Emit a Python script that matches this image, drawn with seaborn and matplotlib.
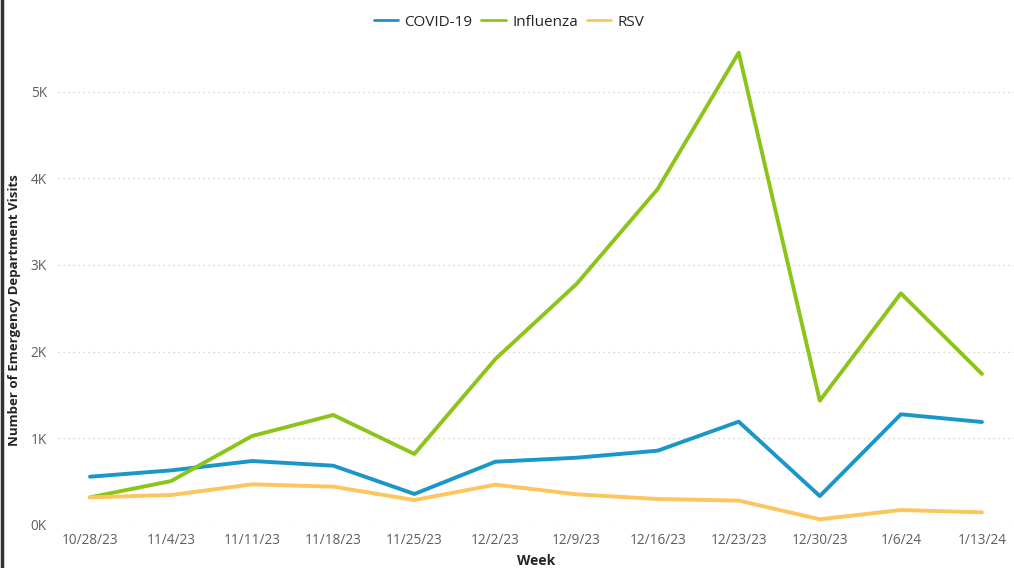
import matplotlib
matplotlib.use("Agg")
import matplotlib.pyplot as plt
import seaborn as sns
import pandas as pd
from matplotlib.lines import Line2D
from matplotlib.ticker import FuncFormatter

weeks = ["10/28/23", "11/4/23", "11/11/23", "11/18/23", "11/25/23", "12/2/23",
         "12/9/23", "12/16/23", "12/23/23", "12/30/23", "1/6/24", "1/13/24"]
covid = [557, 630, 738, 684, 358, 730, 776, 857, 1192, 334, 1277, 1188]
influenza = [319, 507, 1027, 1269, 819, 1915, 2780, 3875, 5448, 1434, 2672, 1742]
rsv = [319, 346, 469, 442, 288, 465, 354, 300, 281, 66, 173, 146]
series_names = ["COVID-19", "Influenza", "RSV"]
colors = ["#1A96C8", "#8CC41A", "#FDC55E"]

rows = []
for name, vals in zip(series_names, [covid, influenza, rsv]):
    for i, (w, v) in enumerate(zip(weeks, vals)):
        rows.append({"idx": i, "Week": w, "Virus": name, "Visits": v})
df = pd.DataFrame(rows)

sns.set_theme(style="white")
plt.rcParams["font.family"] = ["Open Sans", "DejaVu Sans"]

fig = plt.figure(figsize=(10.14, 5.68), dpi=100)
ax = fig.add_axes([58 / 1014, 43 / 568, 1 - 58 / 1014, 5.5 * 86.7 / 568])

sns.lineplot(data=df, x="idx", y="Visits", hue="Virus", hue_order=series_names,
             palette=colors, linewidth=2.8, ax=ax, legend=False, sort=False)

ax.set_xlim(-0.395, 11.395)
ax.set_ylim(0, 5500)
ax.set_xticks(range(len(weeks)))
ax.set_xticklabels(weeks)
ax.set_yticks([0, 1000, 2000, 3000, 4000, 5000])
ax.yaxis.set_major_formatter(FuncFormatter(lambda v, p: f"{int(v/1000)}K"))
ax.tick_params(axis="both", colors="#605E5C", labelsize=9.8, length=0, pad=6)
ax.tick_params(axis="y", pad=8)
for s in ax.spines.values():
    s.set_visible(False)
ax.grid(axis="y", linestyle=(0, (1, 3)), color="#C8C8C8", linewidth=0.9)
ax.grid(axis="x", visible=False)
ax.set_axisbelow(True)

ax.set_xlabel("Week", fontsize=10, fontweight="bold", color="#252423", labelpad=4)
ax.set_ylabel("Number of Emergency Department Visits", fontsize=9.5,
              fontweight="bold", color="#252423", labelpad=7)
ax.yaxis.label.set_position((0, 0.45))

handles = [Line2D([0], [0], color=c, lw=2) for c in colors]
fig.legend(handles, series_names, loc="center", bbox_to_anchor=(509 / 1014, 1 - 22 / 568),
           ncol=3, frameon=False, fontsize=11, handlelength=1.6, handletextpad=0.4,
           columnspacing=0.6, labelcolor="#252423")

fig.add_artist(Line2D([0.0015, 0.0015], [0, 1], transform=fig.transFigure,
                      color="#333333", lw=2.5))

fig.savefig("out.png", dpi=100)
